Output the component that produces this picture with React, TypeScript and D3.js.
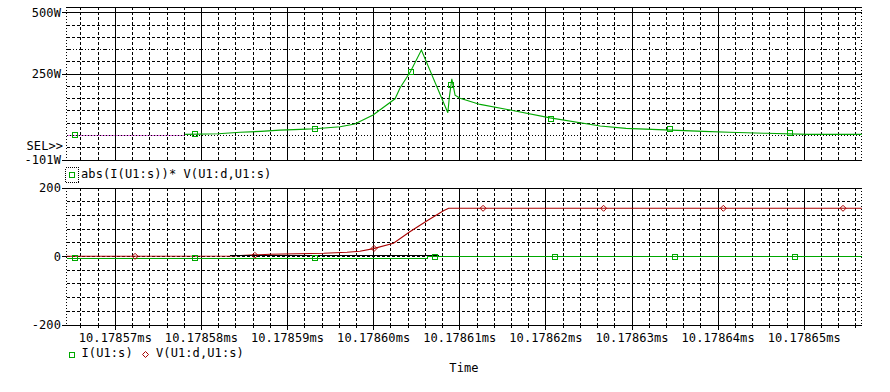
import React from 'react';
import * as d3 from 'd3';

// time axis: ns after 10.17857ms
const tickTimes = [0, 10, 20, 30, 40, 50, 60, 70, 80];
const tickLabels = ['10.17857ms', '10.17858ms', '10.17859ms', '10.17860ms', '10.17861ms', '10.17862ms', '10.17863ms', '10.17864ms', '10.17865ms'];
const timeDomain = [-5.65, 86.67];

// top plot: abs(I(U1:s))* V(U1:d,U1:s)  [W]
const powerT = [-5.65, 8.1, 11.95, 14.5, 16.9, 19.1, 21.5, 23.2, 26.1, 27.8, 29.93, 32.48, 33.07, 34.26, 35.54, 38.61, 38.79, 39.07, 39.26, 39.45, 40.03, 42.36, 45.85, 50.49, 56.3, 59.3, 62.3, 65.3, 68.3, 71.3, 75.6, 80.5, 86.67];
const powerV = [0, 3.7, 6, 12, 16, 21, 24, 26.5, 35, 46, 83, 149, 194, 259, 348, 92, 157, 230, 198, 164, 151, 126, 103, 71, 38, 28, 24, 20, 16, 12, 8, 3.7, 3.7];
const powerMarkT = [-4.68, 9.26, 23.2, 34.3, 38.95, 50.6, 64.4, 78.4];
const powerMarkV = [0, 3.7, 26.5, 260, 206, 65, 24, 8];
const powerYTicks = [500, 250, -101];
const powerYLabels = ['500W', '250W', '-101W'];

// bottom plot: I(U1:s) and V(U1:d,U1:s)
const currT = [-5.65, 36.2, 36.2, 86.67];
const currV = [-5, -5, 0, 0];
const currMarkT = [-4.65, 9.29, 23.2, 37.13, 51.07, 65.0, 78.9];
const currMarkV = [-5, -5, -5, 0, 0, 0, 0];
const voltT = [-5.65, 13.3, 17.97, 24.2, 26.9, 28.4, 29.97, 32.3, 34.2, 36.2, 38.1, 38.7, 86.67];
const voltV = [1, 2, 7, 10, 13, 16, 23.4, 39, 73, 105, 134.5, 141.5, 141.5];
const voltMarkT = [2.29, 16.2, 30.04, 42.7, 56.7, 70.6, 84.5];
const voltMarkV = [1, 4, 24, 141.5, 141.5, 141.5, 141.5];
const blackT = [13.35, 37.6];
const blackV = [2, 2];
const bottomYTicks = [200, 0, -200];
const bottomYLabels = ['200', '0', '-200'];

const GREEN = '#00a800';
const RED = '#a80000';
const FONT = "'DejaVu Sans Mono', monospace";

export default function App() {
  const L = 66.7, R = 861.7;
  const x = d3.scaleLinear().domain(timeDomain).range([L, R]);
  const yTop = d3.scaleLinear().domain([-101, 523.7]).range([160, 7]);
  const yBot = d3.scaleLinear().domain([-200, 200]).range([325, 188.3]);

  const topPts: [number, number][] = powerT.map((t, i) => [x(t), yTop(powerV[i])]);
  const curPts: [number, number][] = currT.map((t, i) => [x(t), yBot(currV[i])]);
  const volPts: [number, number][] = voltT.map((t, i) => [x(t), yBot(voltV[i])]);
  const blkPts: [number, number][] = blackT.map((t, i) => [x(t), yBot(blackV[i])]);
  const line = d3.line();

  const minorT = d3.range(-4, 87, 2).filter(t => t % 10 !== 0);
  const topH = d3.range(-50, 501, 50);
  const botH = d3.range(-160, 161, 40);

  const topDash = (v: number) => (v === 350 ? '4,2,1,2,1,2' : v === 0 ? '1,2' : '3,2');

  const sq = (cx: number, cy: number, c: string, k: string) => (
    <rect key={k} x={Math.round(cx) - 2.5} y={Math.round(cy) - 2.5} width={5} height={5} fill="none" stroke={c} strokeWidth={1} />
  );
  const dia = (cx: number, cy: number, c: string, k: string) => (
    <path key={k} d={`M${cx},${cy - 3}L${cx + 3},${cy}L${cx},${cy + 3}L${cx - 3},${cy}Z`} fill="none" stroke={c} strokeWidth={1} />
  );

  return (
    <svg width={890} height={392} style={{ position: 'absolute', left: 0, top: 0, background: '#fff' }} fontFamily={FONT} fontSize={12} letterSpacing={0.1}>
      <rect x={0} y={0} width={890} height={392} fill="#fff" />
      {/* ---------- TOP PLOT ---------- */}
      <g shapeRendering="crispEdges" stroke="#000" strokeWidth={1}>
        {topH.map(v => (
          <line key={'th' + v} x1={L} x2={R} y1={yTop(v)} y2={yTop(v)}
            strokeDasharray={v === 500 || v === 250 ? undefined : topDash(v)} />
        ))}
        {minorT.map(t => (
          <line key={'tv' + t} x1={x(t)} x2={x(t)} y1={7} y2={160} strokeDasharray="3,2" />
        ))}
        {tickTimes.map(t => (
          <line key={'tV' + t} x1={x(t)} x2={x(t)} y1={7} y2={160} />
        ))}
        <line x1={L} x2={R} y1={7} y2={7} />
        <line x1={L} x2={R} y1={160} y2={160} />
        <line x1={L} x2={L} y1={7} y2={160} strokeDasharray="1,2" />
        <line x1={R} x2={R} y1={7} y2={160} strokeDasharray="1,2" />
        {powerYTicks.map(v => (
          <line key={'tyt' + v} x1={61.5} x2={L} y1={yTop(v)} y2={yTop(v)} />
        ))}
      </g>
      <line x1={L} x2={x(8.1)} y1={yTop(0)} y2={yTop(0)} stroke="#e070e0" strokeWidth={1} shapeRendering="crispEdges" />
      <line x1={L} x2={x(8.1)} y1={yTop(0)} y2={yTop(0)} stroke="#000" strokeDasharray="1,2" strokeWidth={1} shapeRendering="crispEdges" />
      <path d={line(topPts.slice(1)) || ''} fill="none" stroke={GREEN} strokeWidth={1.1} />
      {powerMarkT.map((t, i) => sq(x(t), yTop(powerMarkV[i]), GREEN, 'pm' + i))}
      {powerYLabels.map((s, i) => (
        <text key={'tyl' + i} x={61} y={yTop(powerYTicks[i]) + 4} textAnchor="end">{s}</text>
      ))}
      <text x={26.5} y={149.5}>SEL&gt;&gt;</text>
      <rect x={65.5} y={167.5} width={13} height={15} fill="none" stroke="#000" strokeDasharray="1,1" shapeRendering="crispEdges" />
      {sq(71.5, 175, GREEN, 'leg0')}
      <text x={81} y={177.5}>abs(I(U1:s))* V(U1:d,U1:s)</text>

      {/* ---------- BOTTOM PLOT ---------- */}
      <g shapeRendering="crispEdges" stroke="#000" strokeWidth={1}>
        {botH.map(v => (
          <line key={'bh' + v} x1={L} x2={R} y1={yBot(v)} y2={yBot(v)} strokeDasharray="3,2" />
        ))}
        {minorT.map(t => (
          <line key={'bv' + t} x1={x(t)} x2={x(t)} y1={188.3} y2={325} strokeDasharray="3,2" />
        ))}
        {minorT.map(t => (
          <line key={'bmt' + t} x1={x(t)} x2={x(t)} y1={325} y2={328} />
        ))}
        {tickTimes.map(t => (
          <line key={'bV' + t} x1={x(t)} x2={x(t)} y1={188.3} y2={330} />
        ))}
        <line x1={L} x2={R} y1={188.3} y2={188.3} />
        <line x1={L} x2={R} y1={325} y2={325} />
        <line x1={L} x2={L} y1={188.3} y2={325} strokeDasharray="1,2" />
        <line x1={R} x2={R} y1={188.3} y2={325} strokeDasharray="1,2" />
        {bottomYTicks.map(v => (
          <line key={'byt' + v} x1={61.5} x2={L} y1={yBot(v)} y2={yBot(v)} />
        ))}
      </g>
      <g shapeRendering="crispEdges">
        <path d={line(curPts) || ''} fill="none" stroke={GREEN} strokeWidth={1} />
      </g>
      <path d={line(volPts) || ''} fill="none" stroke={RED} strokeWidth={1.1} />
      <g shapeRendering="crispEdges">
        <path d={line(blkPts) || ''} fill="none" stroke="#000" strokeWidth={1} />
      </g>
      {currMarkT.map((t, i) => sq(x(t), yBot(currMarkV[i]), GREEN, 'cm' + i))}
      {voltMarkT.map((t, i) => dia(x(t), yBot(voltMarkV[i]), RED, 'vm' + i))}
      {bottomYLabels.map((s, i) => (
        <text key={'byl' + i} x={61} y={yBot(bottomYTicks[i]) + 4} textAnchor="end">{s}</text>
      ))}
      {tickLabels.map((s, i) => (
        <text key={'xl' + i} x={x(tickTimes[i])} y={342} textAnchor="middle">{s}</text>
      ))}
      {sq(71.5, 354.5, GREEN, 'leg1')}
      <text x={81.5} y={357}>I(U1:s)</text>
      {dia(145.5, 354.5, RED, 'leg2')}
      <text x={156} y={357}>V(U1:d,U1:s)</text>
      <text x={464} y={371.5} textAnchor="middle">Time</text>
    </svg>
  );
}
